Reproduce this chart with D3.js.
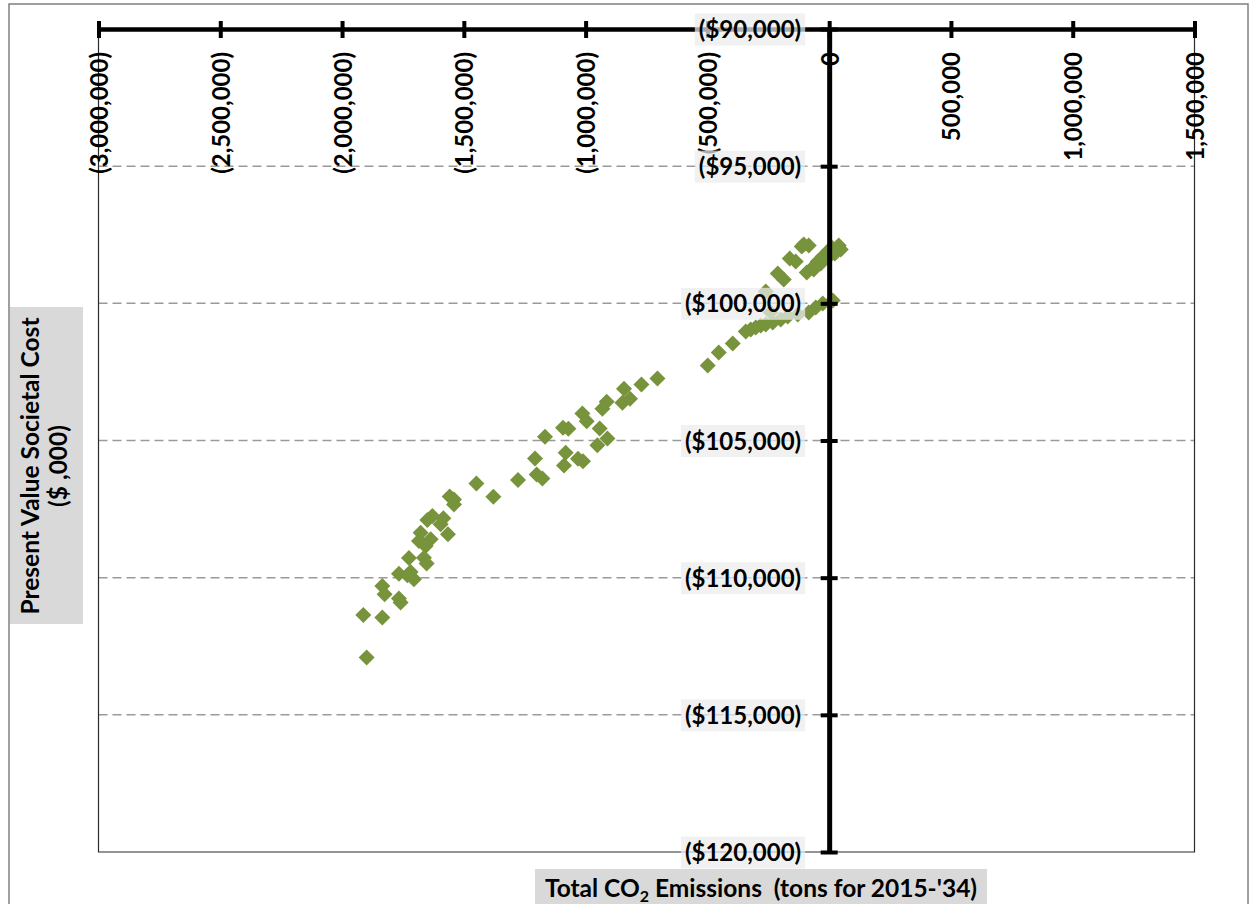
<!DOCTYPE html>
<html>
<head>
<meta charset="utf-8">
<script src="https://cdn.jsdelivr.net/npm/d3@7"></script>
<style>
  html, body { margin: 0; padding: 0; background: #fff; }
  svg { display: block; }
  text { font-family: Lato, "Open Sans", sans-serif; font-weight: 700; fill: #000; }
</style>
</head>
<body>
<svg id="chart" width="1252" height="904"></svg>
<script>
// ---- data (tons CO2 for 2015-'34, present value societal cost $,000) ----
const co2Emissions = [
  -104300, -83800, -112500, -161800, -137200, -211100, -186500,
  -92000, -67400, -46800, -26300, -5700, 10700, 39400, 47600, -1600, -34500, -63200, 23000,
  14800, -26300, -55000, -83800, -129000,
  -260400, -239800,
  -170000, -198800, -231600, -260400, -281000, -301500, -322000, -342600,
  -395900, -453400, -498600,
  -705200, -770900, -842300, -817700, -848900, -913400, -931100, -1013200, -995500, -942100,
  -910500, -951600, -1092900, -1070700, -1166800, -1081800, -1088800, -1031300, -1010700,
  -1207900, -1200900, -1177500, -1277700, -1448500, -1378700, -1540500, -1558200, -1540500,
  -1584100, -1595200, -1629200, -1649800, -1565200, -1677300, -1636200, -1684300, -1656800,
  -1725300, -1663700, -1652700, -1766400, -1718400, -1704800, -1731900, -1834600, -1825100,
  -1766400, -1759400, -1912600, -1834600, -1899100
];
const societalCost = [
  -97859, -97896, -97932, -98369, -98478, -98915, -99134,
  -98879, -98697, -98478, -98297, -98114, -97969, -97896, -98041, -98297, -98551, -98770, -98187,
  -99899, -100008, -100154, -100336, -100409,
  -99571, -100336,
  -100482, -100591, -100700, -100773, -100809, -100882, -100955, -101028,
  -101465, -101793, -102266,
  -102740, -102958, -103115, -103479, -103625, -103588, -103843, -104014, -104295, -104561,
  -104925, -105169, -104535, -104572, -104863, -105446, -105908, -105664, -105752,
  -105653, -106236, -106382, -106444, -106564, -107048, -107147, -107037, -107329,
  -107838, -108057, -107755, -107900, -108421, -108359, -108603, -108665, -108847,
  -109284, -109270, -109488, -109853, -109794, -110060, -109914, -110304, -110606,
  -110763, -110909, -111360, -111455, -112912
];
const xTickValues = [-3000000, -2500000, -2000000, -1500000, -1000000, -500000, 0, 500000, 1000000, 1500000];
const yTickValues = [-90000, -95000, -100000, -105000, -110000, -115000, -120000];
const xTitleMain = "Total CO";
const xTitleSub = "2";
const xTitleRest = " Emissions  (tons for 2015-'34)";
const yTitleLines = ["Present Value Societal Cost", "($ ,000)"];

const points = co2Emissions.map((v, i) => ({ x: v, y: societalCost[i] }));

// ---- layout ----
const svg = d3.select("#chart");
const pLeft = 98.5, pRight = 1194.5, pTop = 29, pBottom = 852;
const x = d3.scaleLinear().domain([-3000000, 1500000]).range([pLeft, pRight]);
const y = d3.scaleLinear().domain([-90000, -120000]).range([pTop, pBottom]);

const fmtNum = d3.format(",");
const fmtX = v => v < 0 ? "(" + fmtNum(-v) + ")" : fmtNum(v);
const fmtY = v => v < 0 ? "($" + fmtNum(-v) + ")" : "$" + fmtNum(v);
const tickFont = 24;

// outer chart frame
svg.append("rect").attr("x", 9).attr("y", 4).attr("width", 1239).attr("height", 940)
  .attr("fill", "none").attr("stroke", "#808080").attr("stroke-width", 1.5);

// horizontal dashed gridlines
svg.append("g").selectAll("line").data(yTickValues.filter(v => v !== -90000 && v !== -120000)).join("line")
  .attr("x1", pLeft).attr("x2", pRight)
  .attr("y1", d => y(d)).attr("y2", d => y(d))
  .attr("stroke", "#9a9a9a").attr("stroke-width", 1.5).attr("stroke-dasharray", "9,5");

// plot area border (left, right, bottom)
svg.append("path")
  .attr("d", `M${pLeft},${pTop}V${pBottom}H${pRight}V${pTop}`)
  .attr("fill", "none").attr("stroke", "#2a2a2a").attr("stroke-width", 1.2);

// Y axis titles
const yt = svg.append("g");
yt.append("rect").attr("x", 10).attr("y", 307).attr("width", 73).attr("height", 317).attr("fill", "#d9d9d9");
const ytText = yt.append("text").attr("transform", "translate(39,466) rotate(-90)")
  .attr("text-anchor", "middle").attr("font-size", 24.5);
ytText.selectAll("tspan").data(yTitleLines).join("tspan")
  .attr("x", 0).attr("dy", (d, i) => i === 0 ? 0 : 28).text(d => d);

// X axis title
const xt = svg.append("g");
xt.append("rect").attr("x", 535).attr("y", 869).attr("width", 452).attr("height", 40).attr("fill", "#d9d9d9");
const xtText = xt.append("text").attr("x", 761).attr("y", 897).attr("text-anchor", "middle")
  .attr("font-size", 24.5).style("white-space", "pre");
xtText.append("tspan").text(xTitleMain);
xtText.append("tspan").attr("font-size", 16).attr("dy", 5).text(xTitleSub);
xtText.append("tspan").attr("dy", -5).text(xTitleRest);

// data markers
svg.append("g").selectAll("path").data(points).join("path")
  .attr("transform", d => `translate(${x(d.x)},${y(d.y)})`)
  .attr("d", "M0,-8L8,0L0,8L-8,0Z")
  .attr("fill", "#77933c");

// top X axis (crosses at y = -90,000)
const xAxis = d3.axisTop(x).tickValues(xTickValues).tickSize(0).tickFormat("");
const gx = svg.append("g").attr("transform", `translate(0,${pTop})`).call(xAxis);
gx.select(".domain").attr("stroke", "#000").attr("stroke-width", 4.5);
gx.selectAll(".tick").append("line").attr("y1", -8).attr("y2", 9)
  .attr("stroke", "#000").attr("stroke-width", 4);
gx.selectAll(".tick").append("text")
  .attr("transform", "translate(9,23) rotate(-90)")
  .attr("text-anchor", "end").attr("font-size", tickFont)
  .attr("fill", "#000").style("font-family", "Lato").style("font-weight", 700)
  .text(d => fmtX(d));

// vertical Y axis at x = 0
const yAxis = d3.axisLeft(y).tickValues(yTickValues).tickSize(0).tickFormat("");
const gy = svg.append("g").attr("transform", `translate(${x(0)},0)`).call(yAxis);
gy.select(".domain").attr("stroke", "#000").attr("stroke-width", 5);
gy.selectAll(".tick").append("line").attr("x1", -8.5).attr("x2", 8.5)
  .attr("stroke", "#000").attr("stroke-width", 4);
gy.selectAll(".tick").each(function (d) {
  const g = d3.select(this);
  const bg = g.insert("rect", ":first-child");
  const t = g.append("text").attr("x", -28).attr("dy", "0.36em")
    .attr("text-anchor", "end").attr("font-size", tickFont)
    .style("font-family", "Lato").style("font-weight", 700).attr("fill", "#000")
    .text(fmtY(d));
  const b = t.node().getBBox();
  bg.attr("x", b.x - 4).attr("y", -16).attr("width", b.width + 8).attr("height", 32)
    .attr("fill", "#ececec").attr("fill-opacity", 0.72);
});
</script>
</body>
</html>
